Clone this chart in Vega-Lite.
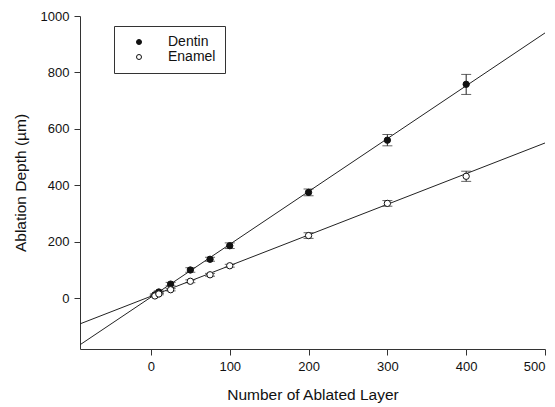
{
  "$schema": "https://vega.github.io/schema/vega-lite/v6.json",
  "width": 465,
  "height": 333,
  "autosize": "none",
  "padding": {"left": 80, "top": 16, "right": 10, "bottom": 58},
  "background": "white",
  "config": {
    "view": {"stroke": null},
    "font": "Liberation Sans",
    "axis": {"grid": false, "domainColor": "#333", "tickColor": "#333", "labelColor": "#111", "titleColor": "#111", "labelFont": "Liberation Sans", "titleFont": "Liberation Sans", "labelFontSize": 13, "titleFontSize": 15.5, "titleFontWeight": "normal", "tickSize": 6}
  },
  "datasets": {
    "pts": [
      {"series": "Dentin", "layer": 5, "depth": 12, "lo": 9, "hi": 15},
      {"series": "Dentin", "layer": 10, "depth": 22, "lo": 18, "hi": 26},
      {"series": "Dentin", "layer": 25, "depth": 50, "lo": 44, "hi": 56},
      {"series": "Dentin", "layer": 50, "depth": 100, "lo": 92, "hi": 108},
      {"series": "Dentin", "layer": 75, "depth": 138, "lo": 131, "hi": 145},
      {"series": "Dentin", "layer": 100, "depth": 186, "lo": 176, "hi": 196},
      {"series": "Dentin", "layer": 200, "depth": 375, "lo": 363, "hi": 387},
      {"series": "Dentin", "layer": 300, "depth": 560, "lo": 540, "hi": 580},
      {"series": "Dentin", "layer": 400, "depth": 758, "lo": 722, "hi": 793},
      {"series": "Enamel", "layer": 5, "depth": 8, "lo": 5, "hi": 11},
      {"series": "Enamel", "layer": 10, "depth": 15, "lo": 12, "hi": 18},
      {"series": "Enamel", "layer": 25, "depth": 30, "lo": 26, "hi": 34},
      {"series": "Enamel", "layer": 50, "depth": 60, "lo": 55, "hi": 65},
      {"series": "Enamel", "layer": 75, "depth": 83, "lo": 78, "hi": 88},
      {"series": "Enamel", "layer": 100, "depth": 115, "lo": 110, "hi": 120},
      {"series": "Enamel", "layer": 200, "depth": 222, "lo": 212, "hi": 232},
      {"series": "Enamel", "layer": 300, "depth": 336, "lo": 326, "hi": 346},
      {"series": "Enamel", "layer": 400, "depth": 432, "lo": 414, "hi": 450}
    ],
    "fit": [
      {"series": "Dentin", "layer": -90, "depth": -165},
      {"series": "Dentin", "layer": 500, "depth": 940},
      {"series": "Enamel", "layer": -90, "depth": -91},
      {"series": "Enamel", "layer": 500, "depth": 550}
    ]
  },
  "encoding": {
    "x": {"field": "layer", "type": "quantitative", "scale": {"domain": [-90, 500], "nice": false, "zero": false},
      "axis": {"values": [0, 100, 200, 300, 400, 500], "format": "d", "title": "Number of Ablated Layer", "titlePadding": 14, "labelPadding": 5}}
  },
  "layer": [
    {
      "data": {"name": "fit"},
      "mark": {"type": "line", "color": "#222", "strokeWidth": 1, "clip": true},
      "encoding": {
        "y": {"field": "depth", "type": "quantitative", "scale": {"domain": [-180, 1000], "nice": false, "zero": false},
          "axis": {"values": [0, 200, 400, 600, 800, 1000], "format": "d", "title": "Ablation Depth (µm)", "titlePadding": 12, "labelPadding": 5}},
        "detail": {"field": "series"}
      }
    },
    {
      "data": {"name": "pts"},
      "mark": {"type": "rule", "color": "#222", "strokeWidth": 1},
      "encoding": {"y": {"field": "lo", "type": "quantitative"}, "y2": {"field": "hi"}}
    },
    {
      "data": {"name": "pts"},
      "mark": {"type": "tick", "orient": "horizontal", "color": "#222", "size": 10, "thickness": 1},
      "encoding": {"y": {"field": "lo", "type": "quantitative"}}
    },
    {
      "data": {"name": "pts"},
      "mark": {"type": "tick", "orient": "horizontal", "color": "#222", "size": 10, "thickness": 1},
      "encoding": {"y": {"field": "hi", "type": "quantitative"}}
    },
    {
      "data": {"name": "pts"},
      "mark": {"type": "point", "filled": true, "stroke": "#111", "strokeWidth": 1, "size": 40, "opacity": 1},
      "encoding": {
        "y": {"field": "depth", "type": "quantitative"},
        "fill": {"field": "series", "type": "nominal", "scale": {"domain": ["Dentin", "Enamel"], "range": ["#111", "white"]},
          "legend": {"title": null, "orient": "none", "legendX": 34, "legendY": 10, "strokeColor": "#333", "padding": 9, "labelFontSize": 14, "labelFont": "Liberation Sans", "labelColor": "#111", "symbolSize": 25, "symbolStrokeColor": "#111", "symbolStrokeWidth": 1, "symbolType": "circle", "labelOffset": 22, "rowPadding": 1, "symbolOffset": 9}}
      }
    }
  ]
}
